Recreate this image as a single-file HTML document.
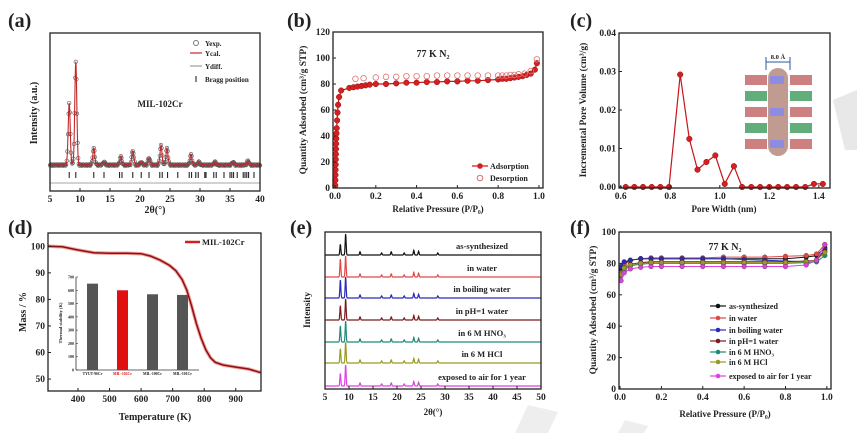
<!DOCTYPE html>
<html><head><meta charset="utf-8">
<style>
body{margin:0;background:#fff;}
svg{display:block;font-family:"Liberation Serif",serif;font-weight:bold;}
</style></head>
<body>
<svg id="fig" width="857" height="433" viewBox="0 0 857 433" xmlns="http://www.w3.org/2000/svg">
<rect width="857" height="433" fill="#fff"/>
<polygon points="833,100 857,90 857,150 845,150" fill="#e8e8e8"/>
<polygon points="515,433 528,405 558,412 548,433" fill="#eeeeee"/>
<polygon points="618,433 625,420 648,426 644,433" fill="#eeeeee"/>
<g id="layer"></g>
</svg>
<script>
// ---- data (a) ----
const aPeakPos=[8.2,9.3,12.3,14.0,16.8,18.8,20.2,21.5,23.5,24.5,28.5,29.8,32.5,35.5,38.0];
const aPeakInt=[60,100,16,3,8,14,3,7,19,16,10,3,3,3,4];
const aBragg=[8.2,9.3,12.3,14.0,16.6,17.0,18.8,20.2,21.5,23.3,23.7,24.6,26.3,28.2,28.6,29.3,29.7,30.8,31.0,32.3,32.7,34.0,35.0,35.3,35.6,36.2,37.2,37.5,37.8,38.1,39.0];
const aXTicks=[5,10,15,20,25,30,35,40];
// ---- data (b) ----
const bAdsP=[0.001,0.0015,0.002,0.0025,0.003,0.0035,0.004,0.0045,0.005,0.006,0.007,0.008,0.01,0.012,0.015,0.02,0.03,0.07,0.09,0.11,0.13,0.15,0.17,0.2,0.25,0.3,0.35,0.4,0.45,0.5,0.55,0.6,0.65,0.7,0.75,0.8,0.82,0.84,0.86,0.88,0.9,0.92,0.94,0.96,0.98,0.99];
const bAdsQ=[2,6,10,14,18,22,26,30,34,38,42,46,52,58,64,70,75,77,77.5,78,78.5,79,79.5,80,80,80.5,81,81,81.5,81.5,82,82,82.5,82.5,83,83.5,84,84,84.5,85,85.5,86,87,88,91,96];
const bDesP=[0.1,0.14,0.2,0.25,0.3,0.35,0.4,0.45,0.5,0.55,0.6,0.65,0.7,0.75,0.8,0.82,0.84,0.86,0.88,0.9,0.93,0.96,0.99];
const bDesQ=[84,84.5,85,85.5,85.5,86,86,86,86.5,86.5,86.5,86.5,86.5,86.5,86.5,86.5,86.5,87,87,87.5,88,90,99];
const bYTicks=[0,20,40,60,80,100,120];
const bXTicks=[0.0,0.2,0.4,0.6,0.8,1.0];
// ---- data (c) ----
const cW=[0.62,0.655,0.69,0.725,0.76,0.795,0.84,0.877,0.91,0.946,0.982,1.02,1.057,1.09,1.127,1.163,1.2,1.236,1.272,1.308,1.345,1.38,1.416];
const cV=[0,0,0,0,0,0,0.0292,0.0125,0.0045,0.0065,0.0082,0.0008,0.0054,0,0,0,0,0,0,0,0,0.0008,0.0008];
const cYTicks=[0,0.01,0.02,0.03,0.04];
const cXTicks=[0.6,0.8,1.0,1.2,1.4];
// ---- data (d) ----
const dT=[305,350,400,450,500,550,600,630,660,690,710,730,745,760,775,790,805,820,835,860,900,940,980];
const dM=[100,99.8,98.6,97.6,97.4,97.4,97.2,96.3,94.8,92.8,90.8,87.5,83.5,77.5,71,65.5,61,58,56.3,55.3,54.5,53.8,52.4];
const dXTicks=[400,500,600,700,800,900];
const dYTicks=[50,60,70,80,90,100];
const dBarNames=["TYUT-96Cr","MIL-102Cr","MIL-100Cr","MIL-101Cr"];
const dBarVals=[650,600,570,565];
const dBarTicks=[0,100,200,300,400,500,600,700];
// ---- data (e) ----
const eNames=["as-synthesized","in water","in boiling water","in pH=1 water","in 6 M HNO\u2083","in 6 M HCl","exposed to air for 1 year"];
const eColors=["#111","#e04848","#2a2ab8","#7a1c1c","#1f8a7a","#9a9a20","#e040e0"];
const ePeakPos=[8.2,9.3,12.3,16.8,18.8,21.5,23.5,24.5,28.5];
const ePeakRel=[0.85,1,0.15,0.1,0.15,0.1,0.22,0.18,0.1];
const eFirstRatio=[0.6,1,1,0.8,0.9,0.8,0.7];
const eXTicks=[5,10,15,20,25,30,35,40,45,50];
// ---- data (f) ----
const fP=[0.005,0.02,0.05,0.1,0.15,0.2,0.3,0.4,0.5,0.6,0.7,0.8,0.9,0.95,0.99];
const fBlack=[76,80,82,83,83,83,83,83,83,83,83,83,84,85,90];
const fRed=[74,79,82,83,83.5,83.5,83.5,83.5,84,84,84,84.5,85,86,92];
const fBlue=[78,81,82,83,83,83,83,83,83,82.5,82,81.5,81,82,89];
const fDarkRed=[73,77,79.5,80.5,81,81,81,81,81,81,81,81,81.5,82,88];
const fTeal=[72,76,78.5,79.5,80,80,80,80,80,80,80,80,80.5,81,85];
const fOlive=[73,77,79,80,80.5,80.5,80.5,80.5,80.5,80.5,80.5,80.5,81,82,87];
const fMagenta=[69,74,76.5,77.5,78,78,78,78,78,78,78,78,79,82,92];
const fYTicks=[0,20,40,60,80,100];
const fXTicks=[0.0,0.2,0.4,0.6,0.8,1.0];

const NS="http://www.w3.org/2000/svg";
const L=document.getElementById('layer');
function el(tag,attrs,parent,txt){const e=document.createElementNS(NS,tag);for(const k in attrs)e.setAttribute(k,attrs[k]);if(txt!==undefined)e.textContent=txt;(parent||L).appendChild(e);return e;}
function lin(d0,d1,r0,r1){return v=>r0+(v-d0)/(d1-d0)*(r1-r0);}
function pts(xs,ys,X,Y){return xs.map((x,i)=>X(x).toFixed(1)+","+Y(ys[i]).toFixed(1)).join(" ");}
function box(x0,y0,x1,y1,name){const r=el('rect',{x:x0,y:y0,width:x1-x0,height:y1-y0,fill:'none',stroke:'#222','stroke-width':1.3});}
function txt(x,y,s,size,anchor,name,extra){const t=el('text',Object.assign({x:x,y:y,'font-size':size,'text-anchor':anchor||'middle',fill:'#222'},extra||{}),L,s);return t;}
function xTicks(ticks,X,yb,fmt,name){ticks.forEach(v=>{el('line',{x1:X(v),x2:X(v),y1:yb,y2:yb-3,stroke:'#222'});txt(X(v),yb+11,fmt(v),9.5,'middle',name);});}
function yTicks(ticks,Y,xl,fmt,name){ticks.forEach(v=>{el('line',{x1:xl,x2:xl+3,y1:Y(v),y2:Y(v),stroke:'#222'});txt(xl-3,Y(v)+3,fmt(v),9.5,'end',name);});}
function vlabel(x,y,s,size,name){const t=txt(x,y,s,size,'middle',name,{transform:`rotate(-90 ${x} ${y})`});return t;}

// ===== panel a =====
txt(8,27,"(a)",20,'start','panel-label-a');
{const X=lin(5,40,50,260),Y=lin(0,100,166,63);
 const xs=[],ys=[];for(let i=0;i<=700;i++){const t=5+i*0.05;let s=0;aPeakPos.forEach((p,k)=>{s+=aPeakInt[k]*Math.exp(-((t-p)**2)/(2*0.17*0.17));});xs.push(t);ys.push(s+Math.abs(Math.sin(t*7))*1.5);}
 const g=el('g',{});
 for(let i=0;i<xs.length;i+=2){el('circle',{cx:X(xs[i]),cy:Y(ys[i]),r:1.8,fill:'none',stroke:'#555','stroke-width':0.6},g);}
 el('polyline',{points:pts(xs,ys,X,Y),fill:'none',stroke:'#c0282a','stroke-width':1.1},g);
 el('line',{x1:50,x2:260,y1:183,y2:183,stroke:'#888','stroke-width':0.8});
 aBragg.forEach(b=>{const l=el('line',{x1:X(b),x2:X(b),y1:172,y2:178,stroke:'#111','stroke-width':1});});
 box(50,33,260,191,'plot-area-a');
 xTicks(aXTicks,X,191,v=>v,'x-tick-label');
 txt(155,213,"2θ(°)",10,'middle','x-axis-title-a');
 vlabel(37,113,"Intensity (a.u.)",10,'y-axis-title-a');
 el('circle',{cx:196,cy:43,r:2.5,fill:'none',stroke:'#777'});txt(205,46,"Yexp.",7,'start','legend-entry');
 el('line',{x1:190,x2:202,y1:53,y2:53,stroke:'#c0282a','stroke-width':1.2});txt(205,56,"Ycal.",7,'start','legend-entry');
 el('line',{x1:190,x2:202,y1:66,y2:66,stroke:'#888','stroke-width':1});txt(205,69,"Ydiff.",7,'start','legend-entry');
 el('line',{x1:196,x2:196,y1:76,y2:82,stroke:'#111'});txt(205,82,"Bragg position",7,'start','legend-entry');
 txt(160,107,"MIL-102Cr",9,'middle','sample-label-a');}

// ===== panel b =====
txt(287,27,"(b)",20,'start','panel-label-b');
{const X=lin(-0.01,1.02,333,543),Y=lin(0,120,188,32);
 const ad=el('g',{});
 el('polyline',{points:pts(bAdsP,bAdsQ,X,Y),fill:'none',stroke:'#c8141a','stroke-width':1.2},ad);
 bAdsP.forEach((p,i)=>el('circle',{cx:X(p),cy:Y(bAdsQ[i]),r:2.8,fill:'#d42020',stroke:'#901010','stroke-width':0.5},ad));
 const de=el('g',{});
 bDesP.forEach((p,i)=>el('circle',{cx:X(p),cy:Y(bDesQ[i]),r:2.8,fill:'none',stroke:'#e07070','stroke-width':0.8},de));
 box(333,32,543,188,'plot-area-b');
 xTicks(bXTicks,X,188,v=>v.toFixed(1),'x-tick-label');
 yTicks(bYTicks,Y,333,v=>v,'y-tick-label');
 txt(438,212,"Relative Pressure (P/P₀)",9,'middle','x-axis-title-b');
 vlabel(306,110,"Quantity Adsorbed (cm³/g STP)",9.5,'y-axis-title-b');
 txt(433,57,"77 K N₂",10,'middle','condition-label-b');
 el('line',{x1:472,x2:488,y1:166,y2:166,stroke:'#c8141a','stroke-width':1.2});el('circle',{cx:480,cy:166,r:2.8,fill:'#d42020'});
 txt(490,169,"Adsorption",8,'start','legend-entry');
 el('circle',{cx:480,cy:178,r:2.8,fill:'none',stroke:'#e07070'});txt(490,181,"Desorption",8,'start','legend-entry');}

// ===== panel c =====
txt(570,27,"(c)",20,'start','panel-label-c');
{const X=lin(0.593,1.445,619,830),Y=lin(0,0.04,187,33);
 const s=el('g',{});
 el('polyline',{points:pts(cW,cV,X,Y),fill:'none',stroke:'#c8141a','stroke-width':1.2},s);
 cW.forEach((w,i)=>el('circle',{cx:X(w),cy:Y(cV[i]),r:2.8,fill:'#d42020',stroke:'#901010','stroke-width':0.5},s));
 const ins=el('g',{});
 el('rect',{x:768,y:68,width:20,height:88,rx:10,fill:'#b58a7e',opacity:0.85},ins);
 for(let r=0;r<5;r++){const yy=80+r*16;const col=(r%2)?'#3a9a5a':'#c06060';
  el('rect',{x:745,y:yy-5,width:22,height:10,fill:col,opacity:0.8},ins);el('rect',{x:790,y:yy-5,width:22,height:10,fill:col,opacity:0.8},ins);
  if(r%2==0){el('rect',{x:770,y:yy-4,width:14,height:8,fill:'#8a8ae8',opacity:0.9},ins);}}
 el('line',{x1:766,x2:790,y1:62,y2:62,stroke:'#2a5aa0'},ins);el('line',{x1:766,x2:766,y1:57,y2:70,stroke:'#2a5aa0'},ins);el('line',{x1:790,x2:790,y1:57,y2:70,stroke:'#2a5aa0'},ins);
 txt(778,59,"8.0 Å",6.5,'middle','pore-size-label');
 box(619,33,830,188,'plot-area-c');
 xTicks(cXTicks,X,188,v=>v.toFixed(1),'x-tick-label');
 yTicks(cYTicks,Y,619,v=>v.toFixed(2),'y-tick-label');
 txt(724,212,"Pore Width (nm)",9,'middle','x-axis-title-c');
 vlabel(586,110,"Incremental Pore Volume (cm³/g)",9.5,'y-axis-title-c');}

// ===== panel d =====
txt(8,234,"(d)",20,'start','panel-label-d');
{const X=lin(305,980,48,261),Y=lin(45.5,105,391,233);
 el('polyline',{points:pts(dT,dM,X,Y),fill:'none',stroke:'#f4a0a0','stroke-width':3.5});
 const c2=el('polyline',{points:pts(dT,dM,X,Y),fill:'none',stroke:'#8a1010','stroke-width':1.5});
 
 const BX=lin(-0.55,3.55,76,199),BY=lin(0,700,370,277);
 el('line',{x1:76,x2:76,y1:277,y2:370,stroke:'#333','stroke-width':0.8});el('line',{x1:76,x2:199,y1:370,y2:370,stroke:'#333','stroke-width':0.8});
 dBarTicks.forEach(v=>{el('line',{x1:76,x2:78,y1:BY(v),y2:BY(v),stroke:'#333','stroke-width':0.6});txt(74,BY(v)+1.5,v,4,'end','inset-y-tick');});
 dBarVals.forEach((v,i)=>{const b=el('rect',{x:BX(i)-5.5,y:BY(v),width:11,height:370-BY(v),fill:i==1?'#e01010':'#555'});
  txt(BX(i),375,dBarNames[i],3.8,'middle','inset-x-label',i==1?{fill:'#e01010'}:{});});
 vlabel(62,323,"Thermal stability (K)",4.5,'inset-y-title');
 box(48,233,261,391,'plot-area-d');
 xTicks(dXTicks,X,391,v=>v,'x-tick-label');
 yTicks(dYTicks,Y,48,v=>v,'y-tick-label');
 txt(155,420,"Temperature (K)",10,'middle','x-axis-title-d');
 vlabel(26,312,"Mass / %",10,'y-axis-title-d');
 el('line',{x1:185,x2:200,y1:242,y2:242,stroke:'#d02020','stroke-width':2.5});
 txt(202,245,"MIL-102Cr",8.5,'start','legend-entry');}

// ===== panel e =====
txt(290,234,"(e)",20,'start','panel-label-e');
{const X=lin(5,50,325,541);const bases=[255,277,298,320,342,363,386];
 eNames.forEach((nm,k)=>{const xs=[],ys=[];for(let i=0;i<=900;i++){const t=5+i*0.05;let s=0;ePeakPos.forEach((p,j)=>{const r=j==0?ePeakRel[0]*eFirstRatio[k]:ePeakRel[j];s+=r*Math.exp(-((t-p)**2)/(2*0.1*0.1));});xs.push(t);ys.push(s);}
  const Y=lin(0,1,bases[k],bases[k]-21);
  const p=el('polyline',{points:pts(xs,ys,X,Y),fill:'none',stroke:eColors[k],'stroke-width':1.2});
  
  txt(482,bases[k]-6,nm,8.5,'middle','trace-label');});
 box(325,232,541,389,'plot-area-e');
 xTicks(eXTicks,X,389,v=>v,'x-tick-label');
 txt(433,415,"2θ(°)",9,'middle','x-axis-title-e');
 vlabel(310,310,"Intensity",9.5,'y-axis-title-e');}

// ===== panel f =====
txt(570,234,"(f)",20,'start','panel-label-f');
{const X=lin(-0.005,1.02,619,831),Y=lin(0,100,389,232);
 const series=[fBlack,fRed,fBlue,fDarkRed,fTeal,fOlive,fMagenta];
 series.forEach((sv,k)=>{const g=el('g',{});
  el('polyline',{points:pts(fP,sv,X,Y),fill:'none',stroke:eColors[k],'stroke-width':1},g);
  fP.forEach((p,i)=>el('circle',{cx:X(p),cy:Y(sv[i]),r:2.4,fill:eColors[k],stroke:'#333','stroke-width':0.3},g));});
 box(619,232,831,389,'plot-area-f');
 xTicks(fXTicks,X,389,v=>v.toFixed(1),'x-tick-label');
 yTicks(fYTicks,Y,619,v=>v,'y-tick-label');
 txt(725,417,"Relative Pressure (P/P₀)",9,'middle','x-axis-title-f');
 vlabel(596,310,"Quantity Adsorbed (cm³/g STP)",9.5,'y-axis-title-f');
 txt(725,250,"77 K N₂",10,'middle','condition-label-f');
 const ly=[306,318,330,341,352,362,376];
 eNames.forEach((nm,k)=>{el('line',{x1:710,x2:726,y1:ly[k],y2:ly[k],stroke:eColors[k],'stroke-width':1.2});el('circle',{cx:718,cy:ly[k],r:2.3,fill:eColors[k]});
  txt(729,ly[k]+3,nm,8,'start','legend-entry');});}
</script>
</body></html>
